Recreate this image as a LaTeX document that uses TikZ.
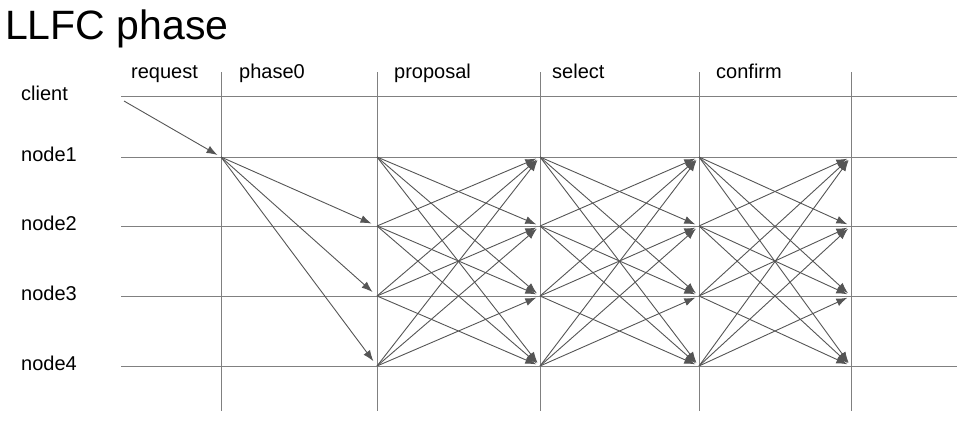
\documentclass[tikz,border=0pt]{standalone}
\usepackage{fontspec}
\setmainfont{Liberation Sans}
\usetikzlibrary{arrows.meta}
\definecolor{gridgray}{HTML}{808080}
\definecolor{arrowgray}{HTML}{555555}

\begin{document}
\begin{tikzpicture}[x=1pt, y=-1pt,
    every node/.style={inner sep=0pt, anchor=base west, font=\fontsize{20}{24}\selectfont},
    gridline/.style={gridgray, line width=1pt},
    msg/.style={arrowgray, line width=0.9pt, -{Latex[length=11pt,width=8pt]}, shorten >=4pt}]
			\useasboundingbox (0,0) rectangle (972,429);
			%   %   %   %   %   %   %   %   %   %   %
			%   Title
				\node[font=\fontsize{41}{48}\selectfont] (title) at (5,39) {LLFC phase};
			%   %   %   %   %   %   %   %   %   %   %
			%   Rows: participants
				\foreach \r/\y/\name in {0/96/client, 1/157/node1, 2/226/node2, 3/296/node3, 4/366/node4}{
					\coordinate (rowL-\r) at (121,\y);
					\coordinate (rowR-\r) at (957,\y);
					\node (lab-\r) at (21,\y+4) {\name};
					\draw[gridline] (rowL-\r) -- (rowR-\r);
				}
			%   %   %   %   %   %   %   %   %   %   %
			%   Columns: phase boundaries
				\foreach \c/\x in {0/221, 1/377, 2/540, 3/699, 4/851}{
					\coordinate (colT-\c) at (\x,72);
					\coordinate (colB-\c) at (\x,411);
					\draw[gridline] (colT-\c) -- (colB-\c);
					\foreach \r/\y in {0/96, 1/157, 2/226, 3/296, 4/366}
						\coordinate (p-\c-\r) at (\x,\y);
				}
			%   %   %   %   %   %   %   %   %   %   %
			%   Phase names
				\node (hrequest)  at (131,78) {request};
				\node (hphase0)   at (239,78) {phase0};
				\node (hproposal) at (394,78) {proposal};
				\node (hselect)   at (552,78) {select};
				\node (hconfirm)  at (716,78) {confirm};
			%   %   %   %   %   %   %   %   %   %   %
			%   Client -> node1
				\coordinate (csend) at (124,101);
				\draw[msg] (csend) -- (p-0-1);
			%   %   %   %   %   %   %   %   %   %   %
			%   node1 -> others (phase0)
				\foreach \j in {2,3,4}
					\draw[msg, shorten >=6pt] (p-0-1) -- (p-1-\j);
			%   %   %   %   %   %   %   %   %   %   %
			%   proposal, select, confirm: all to all
				\foreach \c in {1,2,3}{
					\pgfmathtruncatemacro{\n}{\c+1}
					\foreach \i in {1,...,4}
						\foreach \j in {1,...,4}{
							\ifnum\i=\j\else
								\draw[msg] (p-\c-\i) -- (p-\n-\j);
							\fi
						}
				}
\end{tikzpicture}
\end{document}
